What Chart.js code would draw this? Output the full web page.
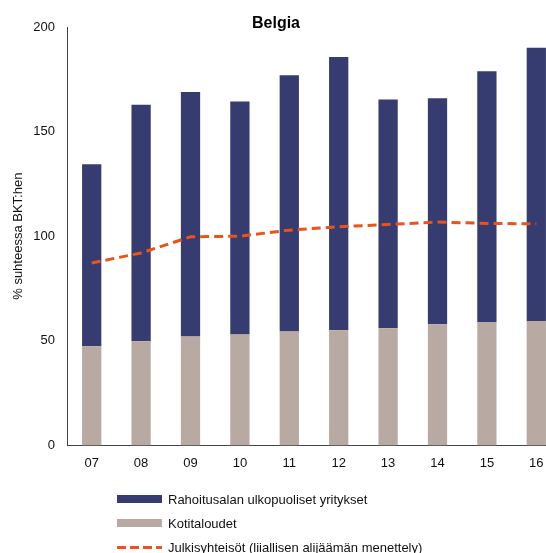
<!DOCTYPE html>
<html>
<head>
<meta charset="utf-8">
<script src="https://cdn.jsdelivr.net/npm/chart.js@4"></script>
<style>
    body { margin: 0; background: #fff; font-family: "Liberation Sans", Arial, sans-serif; overflow: hidden; }
    #wrap { position: relative; width: 546px; height: 553px; overflow: hidden; }
    #legend { position: absolute; left: 117px; top: 487px; font-size: 13px; color: #111; }
    .item { display: flex; align-items: center; height: 24px; }
    .swatch { width: 45px; height: 8px; margin-right: 6px; }
    .dash { width: 45px; height: 3px; margin-right: 6px;
        background: repeating-linear-gradient(90deg, #E8541C 0 9px, transparent 9px 13px); }
</style>
</head>
<body>
<div id="wrap">
    <!-- plot runs a bit past the right edge in the original, so the canvas is wider than the page -->
    <canvas id="chart" width="561" height="553"></canvas>
    <div id="legend"></div>
</div>
<script>
const years = ['07', '08', '09', '10', '11', '12', '13', '14', '15', '16'];
const households = [47.4, 49.8, 52.0, 53.0, 54.4, 55.0, 56.0, 57.9, 59.0, 59.5];
const nonFinancial = [87.0, 113.0, 116.9, 111.4, 122.5, 130.6, 109.4, 108.0, 119.9, 130.6];
const government = [87.2, 92.0, 99.7, 100.0, 102.9, 104.5, 105.6, 106.8, 106.1, 105.9];
const yTicks = [0, 50, 100, 150, 200];

const navy = '#363B70';
const beige = '#B8AAA2';
const orange = '#E8541C';

// title sits over the top of the plot, so draw it by hand
const titlePlugin = {
    id: 'belgiaTitle',
    afterDraw(chart) {
        const c = chart.ctx;
        c.save();
        c.font = 'bold 16px "Liberation Sans", Arial, sans-serif';
        c.fillStyle = '#000';
        c.textAlign = 'center';
        c.textBaseline = 'middle';
        c.fillText('Belgia', 276, 24);
        c.restore();
    }
};

const ctx = document.getElementById('chart').getContext('2d');
const chart = new Chart(ctx, {
    type: 'bar',
    data: {
        labels: years,
        datasets: [
            {
                type: 'line',
                label: 'Julkisyhteisöt (liiallisen alijäämän menettely)',
                data: government,
                borderColor: orange,
                borderWidth: 3,
                borderDash: [9, 5],
                pointRadius: 0,
                tension: 0,
                fill: false,
                stack: 'line',
                order: 0
            },
            {
                label: 'Kotitaloudet',
                data: households,
                backgroundColor: beige,
                stack: 'debt',
                order: 1
            },
            {
                label: 'Rahoitusalan ulkopuoliset yritykset',
                data: nonFinancial,
                backgroundColor: navy,
                stack: 'debt',
                order: 1
            }
        ]
    },
    options: {
        responsive: false,
        animation: false,
        layout: {
            padding: { top: 27, right: 0, bottom: 72, left: 11 }
        },
        datasets: {
            bar: { categoryPercentage: 1, barPercentage: 0.39 }
        },
        plugins: {
            legend: { display: false },
            title: { display: false },
            tooltip: { enabled: false }
        },
        scales: {
            x: {
                stacked: true,
                grid: { display: false, drawTicks: false },
                border: { display: true, color: '#444', width: 1 },
                ticks: {
                    color: '#111',
                    padding: 10,
                    font: { family: '"Liberation Sans", Arial, sans-serif', size: 13 }
                }
            },
            y: {
                stacked: true,
                min: 0,
                max: 200,
                afterBuildTicks: axis => { axis.ticks = yTicks.map(v => ({ value: v })); },
                afterFit: axis => { axis.width = 56; },
                grid: { display: false, drawTicks: false },
                border: { display: true, color: '#444', width: 1 },
                ticks: {
                    color: '#111',
                    padding: 12,
                    font: { family: '"Liberation Sans", Arial, sans-serif', size: 13 }
                },
                title: {
                    display: true,
                    text: '% suhteessa BKT:hen',
                    color: '#111',
                    padding: { top: 0, bottom: 0 },
                    font: { family: '"Liberation Sans", Arial, sans-serif', size: 13 }
                }
            }
        }
    },
    plugins: [titlePlugin]
});

// legend listed top to bottom like the original
const legendEl = document.getElementById('legend');
[chart.data.datasets[2], chart.data.datasets[1], chart.data.datasets[0]].forEach(ds => {
    const row = document.createElement('div');
    row.className = 'item';
    const mark = ds.type === 'line'
        ? '<div class="dash"></div>'
        : `<div class="swatch" style="background:${ds.backgroundColor}"></div>`;
    row.innerHTML = `${mark}<span>${ds.label}</span>`;
    legendEl.appendChild(row);
});
</script>
</body>
</html>
